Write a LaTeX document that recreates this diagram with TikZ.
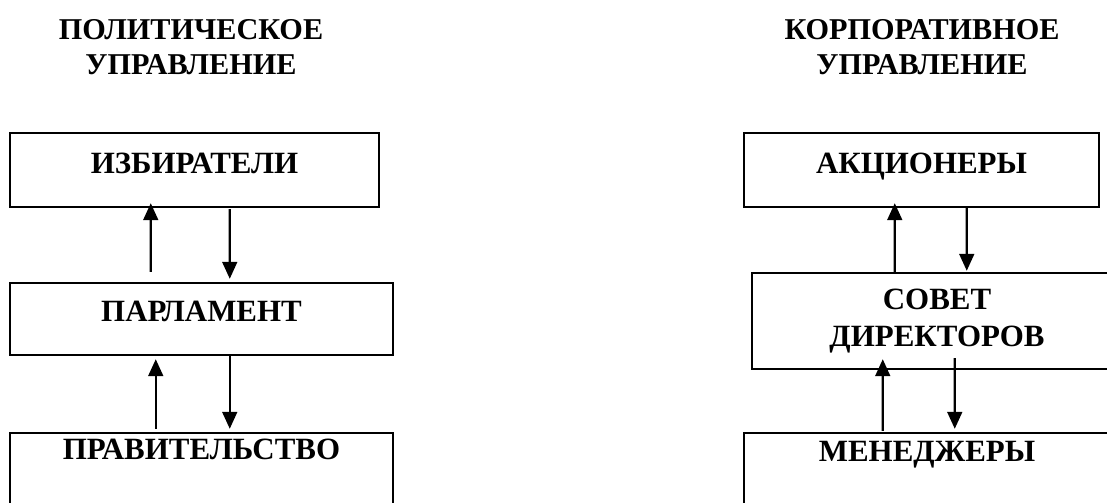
\documentclass[tikz,border=0pt]{standalone}
\usepackage{fontspec}
\setmainfont{Liberation Serif}
\usetikzlibrary{arrows.meta}

\begin{document}
\begin{tikzpicture}[x=0.025cm, y=-0.025cm, font=\fontsize{21.5}{24.5}\selectfont\bfseries]
  % Styles
  \tikzset{
    box/.style={draw=black, line width=1.7pt, rectangle, inner sep=0pt, font=\fontsize{22}{26.5}\selectfont\bfseries},
    onebox/.style={box, text height=0.66em},
    title/.style={align=center, inner sep=0pt},
    arrow/.style={-{Triangle[length=12pt,width=10.5pt]}, line width=1.6pt}
  }
  \useasboundingbox (0,0) rectangle (1107,503);

  % Titles
  \node[title] (tpol) at (191,47) {ПОЛИТИЧЕСКОЕ\\УПРАВЛЕНИЕ};
  \node[title] (tcorp) at (922,47) {КОРПОРАТИВНОЕ\\УПРАВЛЕНИЕ};

  % Political side
  \node[onebox, minimum width=9.225cm, minimum height=1.85cm, text depth=0.05cm] (izb) at (194.5,170) {ИЗБИРАТЕЛИ};
  \node[onebox, minimum width=9.575cm, minimum height=1.8cm, text depth=0.1cm] (parl) at (201.5,319) {ПАРЛАМЕНТ};
  \node[onebox, minimum width=9.575cm, minimum height=2.425cm, text depth=1.325cm] (prav) at (201.5,481.5) {ПРАВИТЕЛЬСТВО};

  % Corporate side
  \node[onebox, minimum width=8.875cm, minimum height=1.85cm, text depth=0.05cm] (akc) at (921.5,170) {АКЦИОНЕРЫ};
  \node[box, align=center, minimum width=9.25cm, minimum height=2.4cm] (sov) at (937,321) {СОВЕТ\\ДИРЕКТОРОВ};
  \node[onebox, minimum width=9.15cm, minimum height=2.425cm, text depth=1.225cm] (men) at (927,481.5) {МЕНЕДЖЕРЫ};

  % Arrows
  \draw[arrow] ([shift={(142,-10)}]parl.north west) -- ([shift={(142,-5)}]izb.south west);
  \draw[arrow] ([shift={(221,1)}]izb.south west) -- ([shift={(221,-3)}]parl.north west);
  \draw[arrow] ([shift={(147,-3)}]prav.north west) -- ([shift={(147,3)}]parl.south west);
  \draw[arrow] ([shift={(221,0)}]parl.south west) -- ([shift={(221,-3)}]prav.north west);

  \draw[arrow] ([shift={(144,0)}]sov.north west) -- ([shift={(152,-5)}]akc.south west);
  \draw[arrow] ([shift={(224,0)}]akc.south west) -- ([shift={(216,-1)}]sov.north west);
  \draw[arrow] ([shift={(140,-1)}]men.north west) -- ([shift={(132,-11)}]sov.south west);
  \draw[arrow] ([shift={(204,-12)}]sov.south west) -- ([shift={(212,-3)}]men.north west);

\end{tikzpicture}
\end{document}
